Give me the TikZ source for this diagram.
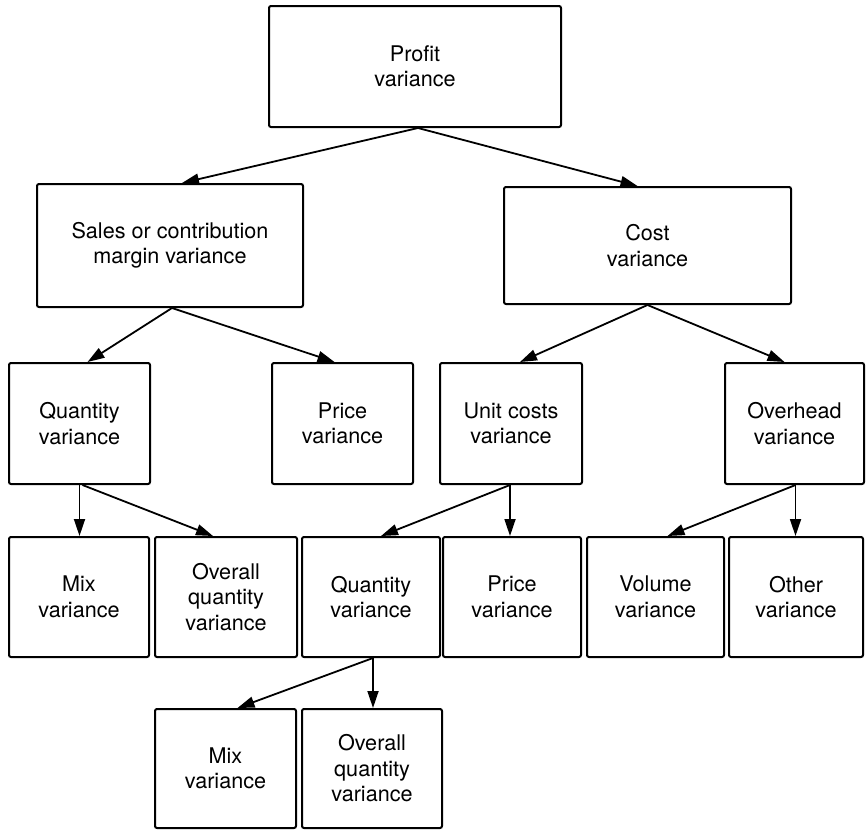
\documentclass[tikz,border=0pt]{standalone}
\usepackage{fontspec}
\setmainfont{TeX Gyre Heros}
\usetikzlibrary{arrows.meta,calc}

\tikzset{
  box/.style={draw=black, line width=2pt, rounded corners=2pt, rectangle,
    inner sep=0pt, align=center, font=\fontsize{21.6}{25.5}\selectfont},
  arr/.style={line width=1.8pt, -{Triangle[length=17pt,width=11pt]}},
}

\begin{document}
\begin{tikzpicture}[x=1pt,y=-1pt]
\useasboundingbox (0,0) rectangle (866,830);

% level 1
\node[box, minimum width=292pt, minimum height=121pt] (profit) at (415,66.5) {Profit\\variance};

% level 2
\node[box, minimum width=266pt, minimum height=123pt] (sales) at (170,245.5) {Sales or contribution\\margin variance};
\node[box, minimum width=287pt, minimum height=117pt] (cost) at (647.5,245.5) {Cost\\variance};

% level 3
\node[box, minimum width=141pt, minimum height=121pt] (qty) at (79.5,423.5) {Quantity\\variance};
\node[box, minimum width=141pt, minimum height=121pt] (price) at (342.5,423.5) {Price\\variance};
\node[box, minimum width=142pt, minimum height=121pt] (unit) at (511,423.5) {Unit costs\\variance};
\node[box, minimum width=139pt, minimum height=121pt] (over) at (794.5,423.5) {Overhead\\variance};

% level 4
\node[box, minimum width=140pt, minimum height=120pt] (mix) at (79,597) {Mix\\variance};
\node[box, minimum width=142pt, minimum height=120pt] (overall) at (226,597) {Overall\\quantity\\variance};
\node[box, minimum width=138pt, minimum height=120pt] (qtyb) at (371,597) {Quantity\\variance};
\node[box, minimum width=138pt, minimum height=120pt] (priceb) at (512,597) {Price\\variance};
\node[box, minimum width=137pt, minimum height=120pt] (volume) at (655.5,597) {Volume\\variance};
\node[box, minimum width=134pt, minimum height=120pt] (other) at (796,597) {Other\\variance};

% level 5
\node[box, minimum width=141pt, minimum height=119pt] (mixc) at (225.5,768.5) {Mix\\variance};
\node[box, minimum width=140pt, minimum height=119pt] (overallc) at (372,768.5) {Overall\\quantity\\variance};

% connectors
\draw[arr] ([xshift=3pt]profit.south) -- ([xshift=12pt]sales.north);
\draw[arr] ([xshift=3pt]profit.south) -- ([xshift=-10pt]cost.north);

\draw[arr] ([xshift=2pt]sales.south) -- ([xshift=8pt]qty.north);
\draw[arr] ([xshift=2pt]sales.south) -- ([xshift=-8pt]price.north);

\draw[arr] (cost.south) -- ([xshift=9pt]unit.north);
\draw[arr] (cost.south) -- ([xshift=-10pt]over.north);

\draw[arr] (qty.south) -- (qty.south |- mix.north);
\draw[arr] ([xshift=3pt]qty.south) -- ([xshift=-13pt]overall.north);

\draw[arr] ([xshift=-1pt]unit.south) -- ([xshift=-1pt]unit.south |- priceb.north);
\draw[arr] ([xshift=-1pt]unit.south) -- ([xshift=10pt]qtyb.north);

\draw[arr] ([xshift=1pt]over.south) -- ([xshift=1pt]over.south |- other.north);
\draw[arr] ([xshift=1pt]over.south) -- ([xshift=12pt]volume.north);

\draw[arr] ([xshift=2pt]qtyb.south) -- ([xshift=2pt]qtyb.south |- overallc.north);
\draw[arr] ([xshift=2pt]qtyb.south) -- ([xshift=12pt]mixc.north);
\end{tikzpicture}
\end{document}
